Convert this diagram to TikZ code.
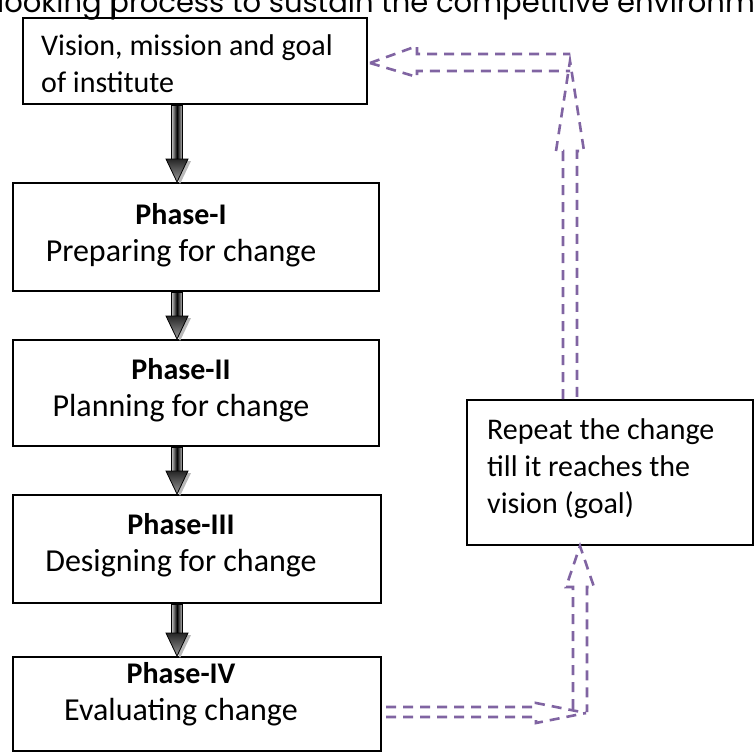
\documentclass[tikz,border=0pt]{standalone}
\usepackage{fontspec}
\setmainfont{Carlito}
\newfontfamily\headfont{Poppins}
\usetikzlibrary{calc}
\definecolor{vio}{HTML}{8064A2}

% solid block arrow: shaded shaft, shaded head with a soft shadow
\newcommand\blockdown[2]{%
  \shade[left color=gray!45, right color=gray!45, middle color=black, draw=black, line width=0.6]
    ($(#1)+(-5.5,0)$) rectangle ($(#2)+(5.5,-22)$);
  \fill[gray!55] ($(#2)+(3,2)$) -- ($(#2)+(-8,-21)$) -- ($(#2)+(14,-21)$) -- cycle;
  \shade[top color=black!85, bottom color=gray!80, draw=black, line width=0.8]
    (#2) -- ($(#2)+(-11,-23)$) -- ($(#2)+(11,-23)$) -- cycle;
}

\begin{document}
\begin{tikzpicture}[x=1pt,y=-1pt,
  box/.style={draw=black, line width=2, inner sep=0, rectangle},
  body/.style={font=\fontsize{30}{37}\selectfont, inner sep=0},
  phasetext/.style={font=\fontsize{32}{37}\selectfont, inner sep=0, align=center},
  hollow/.style={draw=vio, line width=2.6, dash pattern=on 10pt off 7pt, line join=miter},
]
\useasboundingbox (0,0) rectangle (754,753);

% heading line of the page, cut by the page edge
\begin{scope}
  \clip (0,0) rectangle (754,753);
  \node[anchor=base west, inner sep=0, font=\headfont\fontsize{29}{32}\selectfont] (head) at (-3,12)
    {looking process to sustain the competitive environment};
\end{scope}

% boxes
\node[box, minimum width=344, minimum height=86] (goal) at (195,61) {};
\node[body, anchor=west, align=left] (goaltext) at (41,64) {Vision, mission and goal\\of institute};

\node[box, minimum width=366, minimum height=108] (p1) at (196,237) {};
\node[phasetext] (t1) at (181,235) {{\fontsize{30}{37}\selectfont\textbf{Phase-I}}\\Preparing for change};

\node[box, minimum width=366, minimum height=106] (p2) at (196,393) {};
\node[phasetext] (t2) at (181,390) {{\fontsize{30}{37}\selectfont\textbf{Phase-II}}\\Planning for change};

\node[box, minimum width=368, minimum height=108] (p3) at (197,549) {};
\node[phasetext] (t3) at (181,545) {{\fontsize{30}{37}\selectfont\textbf{Phase-III}}\\Designing for change};

\node[box, minimum width=368, minimum height=94] (p4) at (197,704) {};
\node[phasetext] (t4) at (181,694) {{\fontsize{30}{37}\selectfont\textbf{Phase-IV}}\\Evaluating change};

\node[box, minimum width=286, minimum height=145] (rep) at (610,472.5) {};
\node[body, anchor=west, align=left] (reptext) at (487,469) {Repeat the change\\till it reaches the\\vision (goal)};

% short rule above the first box
\coordinate (tx) at (114,0);
\draw[line width=1] (goal.north -| tx) -- (tx);

% solid arrows down the column
\coordinate (ax) at (177,0);
\coordinate (a0) at (goal.south -| ax); \coordinate (b0) at (p1.north -| ax);
\coordinate (a1) at (p1.south -| ax);   \coordinate (b1) at (p2.north -| ax);
\coordinate (a2) at (p2.south -| ax);   \coordinate (b2) at (p3.north -| ax);
\coordinate (a3) at (p3.south -| ax);   \coordinate (b3) at (p4.north -| ax);
\blockdown{a0}{b0}
\blockdown{a1}{b1}
\blockdown{a2}{b2}
\blockdown{a3}{b3}

% hollow dashed arrows of the feedback loop
% Phase-IV -> right
\coordinate (rt) at ($(p4.east)+(4,3)$);
\draw[hollow] (rt) -- ++(150,0) -- ++(0,-4) -- ++(50,10);
\draw[hollow] ($(rt)+(0,10)$) -- ++(150,0) -- ++(0,6) -- ++(50,-10);
% up into the repeat box
\coordinate (ux) at (580,0);
\coordinate (ut) at (rep.south -| ux);
\draw[hollow] ($(ut)+(-7,163)$) -- ++(0,-122) -- ++(-7,0) -- ++(14,-41) -- ++(14,41) -- ++(-7,0) -- ++(0,125);
% up from the repeat box
\coordinate (vx) at (570,0);
\coordinate (vb) at (rep.north -| vx);
\draw[hollow] ($(vb)+(-7,0)$) -- ++(0,-248) -- ++(-7,0) -- ++(14,-90) -- ++(14,90) -- ++(-7,0) -- ++(0,248);
% left into the first box
\coordinate (lt) at ($(goal.east)+(2,2)$);
\draw[hollow] (lt) -- ++(47,-17) -- ++(0,8) -- ++(153,0);
\draw[hollow] (lt) -- ++(47,14) -- ++(0,-6) -- ++(153,0);
\end{tikzpicture}
\end{document}
